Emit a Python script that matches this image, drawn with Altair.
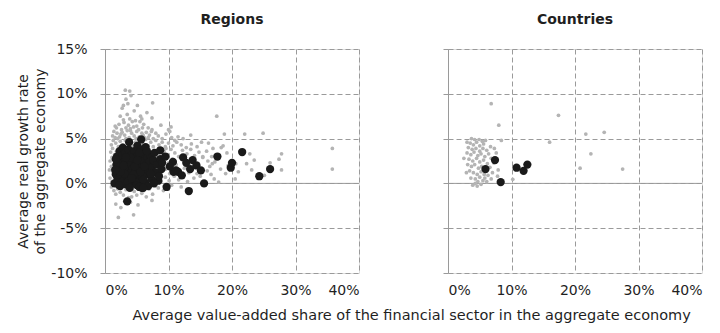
import altair as alt
import pandas as pd

# Regional observations: (financial-sector share %, real growth %)
region_grey = [
    (3.2, 10.4), (3.9, 10.3), (3.3, 9.4), (2.9, 8.7), (2.7, 8.4), (5.1, 8.7), (7.5, 9.0), (4.6, 8.1),
    (6.6, 7.9), (3.5, 7.7), (2.4, 7.5), (5.6, 7.5), (5.8, 7.2), (7.4, 7.3), (17.6, 7.5), (4.1, 9.8), (3.6, 8.9),
    (1.6, 6.4), (1.8, 6.2), (4.3, 6.9), (4.8, 7.0), (5.5, 6.9), (6.8, 6.2), (7.4, 6.0), (10.0, 6.0),
    (10.4, 6.3), (2.2, 6.6), (3.0, 6.8), (3.7, 6.5), (4.0, 6.1), (5.0, 6.4), (6.1, 6.6), (2.6, 6.0),
    (3.3, 6.2), (4.5, 6.3), (5.3, 6.0), (5.9, 6.2), (8.8, 6.5), (3.9, 7.2), (2.9, 7.1),
    (1.4, 5.8), (8.0, 5.6), (1.2, 5.3), (1.9, 5.6), (2.3, 5.2), (2.7, 5.7), (3.1, 5.4), (3.5, 5.9),
    (3.8, 5.1), (4.2, 5.6), (4.6, 5.3), (5.0, 5.8), (5.4, 5.2), (5.8, 5.6), (6.2, 5.1), (6.5, 5.7),
    (7.0, 5.4), (7.6, 5.0), (8.4, 5.3), (9.0, 5.0), (9.6, 5.5), (10.5, 5.1), (11.5, 5.2), (12.3, 5.0),
    (13.5, 5.4), (16.3, 4.5), (18.8, 5.5), (22.0, 5.5), (24.9, 5.6), (2.0, 5.0), (2.5, 5.5), (4.0, 5.9),
    (4.9, 5.0), (6.0, 5.4), (6.8, 5.1), (7.3, 5.8), (3.3, 5.0), (1.6, 5.1), (10.2, 5.8), (11.0, 4.8),
    (1.0, 4.3), (1.3, 4.8), (1.7, 4.5), (2.1, 4.1), (2.4, 4.7), (2.8, 4.3), (3.2, 4.8), (3.6, 4.4),
    (4.0, 4.9), (4.4, 4.2), (4.8, 4.6), (5.2, 4.1), (5.6, 4.8), (6.0, 4.4), (6.4, 4.9), (6.8, 4.2),
    (7.2, 4.6), (7.6, 4.1), (8.0, 4.8), (8.5, 4.3), (9.0, 4.6), (9.5, 4.1), (10.0, 4.5), (10.7, 4.2),
    (11.3, 4.6), (12.0, 4.3), (12.8, 4.0), (13.6, 4.4), (14.5, 4.1), (15.2, 4.6), (18.3, 4.0), (18.6, 4.2),
    (22.8, 3.3), (17.0, 3.9),
    (0.9, 3.5), (1.2, 3.9), (1.5, 3.2), (9.3, 3.6), (9.9, 3.2), (10.4, 3.8), (11.0, 3.4), (11.6, 3.0),
    (12.2, 3.7), (12.9, 3.3), (13.5, 3.8), (14.1, 3.1), (14.8, 3.5), (15.4, 3.0), (16.8, 3.0), (17.3, 3.0),
    (19.2, 3.4), (27.4, 2.7), (27.8, 3.3), (35.8, 3.9), (16.0, 3.6), (8.6, 3.4), (9.6, 3.9),
    (0.8, 2.5), (1.1, 2.9), (9.4, 2.8), (10.0, 2.3), (10.6, 2.7), (11.2, 2.1), (11.9, 2.9), (12.6, 2.4),
    (13.3, 2.0), (14.0, 2.6), (14.7, 2.2), (15.4, 2.9), (16.2, 2.5), (16.9, 2.2), (17.3, 2.4), (19.4, 2.0),
    (20.6, 2.2), (22.3, 2.2), (16.5, 1.9), (23.5, 2.6), (26.0, 2.3),
    (0.7, 1.5), (1.0, 1.9), (9.6, 1.6), (10.2, 1.1), (11.0, 1.8), (11.8, 1.3), (12.5, 1.7), (13.2, 1.2),
    (13.9, 1.9), (14.5, 1.1), (16.1, 1.4), (16.7, 1.0), (18.2, 1.6), (21.0, 1.3), (23.1, 1.5), (27.8, 1.5),
    (35.8, 1.6), (25.1, 0.9), (19.0, 1.1),
    (0.8, 0.6), (1.1, 0.2), (9.5, 0.7), (10.1, 0.3), (10.9, 0.8), (11.6, 0.4), (12.4, 0.9), (13.0, 0.2),
    (14.0, 0.6), (17.2, 0.5), (17.9, 0.15), (15.0, 0.8), (20.5, 0.5),
    (1.0, -0.4), (1.4, -0.8), (1.7, -1.2), (2.0, -0.6), (2.4, -1.0), (2.9, -1.3), (3.3, -0.7), (3.7, -1.6),
    (4.0, -2.1), (4.2, -1.5), (4.6, -0.9), (5.0, -1.3), (5.4, -0.5), (5.8, -1.1), (6.1, -0.8), (6.5, -1.5),
    (7.0, -0.6), (7.4, -1.9), (7.5, -1.2), (8.0, -0.3), (8.4, -0.5), (9.2, -0.8), (1.7, -2.3), (2.5, -2.7),
    (2.1, -3.8), (4.5, -3.5), (3.1, -2.0), (5.2, -2.4), (6.2, -0.3), (3.5, -0.3), (2.7, -0.2), (10.5, -0.2),
    (12.0, -0.4),
    (1.5, 0.5), (2.0, 1.3), (2.3, 2.2), (2.6, 3.1), (3.0, 0.8), (3.4, 1.7), (3.8, 2.6), (4.1, 3.5),
    (4.5, 0.4), (4.9, 1.2), (5.3, 2.1), (5.7, 3.0), (6.1, 3.9), (6.5, 0.9), (6.9, 1.8), (7.3, 2.7),
    (7.7, 3.6), (8.1, 0.5), (8.5, 1.4), (8.9, 2.3), (1.8, 3.6), (2.2, 0.1), (3.6, 4.0), (5.0, 3.7),
    (6.3, 2.4), (7.8, 1.0), (8.8, 0.2), (1.3, 1.2), (1.6, 2.4),
]

region_black = [
    (1.5, 0.0), (1.7, 1.0), (1.8, 2.1), (1.9, 3.0), (2.0, 0.5), (2.1, 1.6), (2.2, 2.6), (2.3, 3.6),
    (2.4, -0.3), (2.5, 0.9), (2.6, 1.9), (2.7, 3.1), (2.8, 4.0), (2.9, 0.3), (3.0, 1.4), (3.1, 2.4),
    (3.2, 3.4), (3.3, -0.1), (3.4, 0.8), (3.5, 1.8), (3.6, 2.8), (3.7, 3.8), (3.8, 4.6), (3.9, 0.4),
    (4.0, 1.2), (4.1, 2.2), (4.2, 3.2), (4.3, 0.0), (4.4, 1.7), (4.5, 2.7), (4.6, 3.6), (4.7, 0.7),
    (4.8, 1.4), (4.9, 2.4), (5.0, 3.0), (5.1, 4.2), (5.2, 0.2), (5.3, 1.1), (5.4, 2.0), (5.5, 2.9),
    (5.6, 3.8), (5.7, 4.9), (5.8, -0.5), (5.9, 0.6), (6.0, 1.6), (6.1, 2.5), (6.2, 3.3), (6.4, 4.05),
    (6.3, 0.1), (6.5, 1.0), (6.6, 2.1), (6.7, 2.9), (6.8, -0.3), (6.9, 1.4), (7.0, 2.4), (7.1, 3.2),
    (7.3, 0.5), (7.4, 1.8), (7.6, 2.6), (7.8, 3.4), (8.0, 1.2), (8.2, 2.1), (8.4, 0.3), (8.7, 3.7),
    (8.7, 2.7), (8.9, 1.6), (9.0, 2.3), (3.5, -2.0), (2.0, 2.3), (2.6, 0.1), (3.1, 1.1), (3.6, 0.2),
    (4.0, 2.9), (4.5, 1.0), (4.9, 0.1), (5.4, 3.4), (6.0, 0.4), (6.6, 3.6), (7.2, 1.1), (2.4, 1.3),
    (2.9, 2.0), (3.3, 2.9), (4.2, 0.6), (4.7, 1.9), (5.1, 2.6), (5.6, 1.3), (6.2, 1.9), (1.6, 1.5),
    (1.7, 2.7), (8.5, 0.8), (7.7, 0.0), (5.0, -0.2), (2.2, -0.2), (3.9, -0.5), (5.4, -0.4), (6.0, -0.5),
    (9.7, -0.4), (10.7, 2.4), (10.8, 1.3), (11.2, 1.45), (11.5, 1.3), (12.1, 0.9), (12.3, 2.9), (12.8, 2.3),
    (13.4, 1.6), (13.8, 2.6), (14.4, 2.0), (15.1, 1.45), (13.2, -0.85), (15.6, 0.0), (17.7, 3.0),
    (19.8, 1.75), (20.0, 2.3), (21.6, 3.5), (24.3, 0.8), (26.0, 1.6), (9.5, 3.0), (10.2, 1.9),
]

# National observations
country_grey = [
    (6.8, 8.9), (8.0, 6.5), (8.4, 4.8), (17.4, 7.6), (16.0, 4.6), (21.7, 5.5), (24.6, 5.7), (22.5, 3.3),
    (20.8, 1.7), (27.5, 1.6), (10.2, 0.45), (7.3, 3.9), (7.6, 3.4), (7.9, 1.5), (7.8, 0.8),
    (3.7, 5.0), (4.2, 4.9), (4.9, 4.9), (5.4, 4.7), (2.5, 2.8), (2.9, 1.2), (3.9, -0.2), (4.3, 0.0),
    (4.7, 0.2), (5.8, 0.6), (3.5, 4.5), (4.0, 4.3), (4.5, 4.6), (5.0, 4.2), (5.6, 4.4), (3.2, 4.0),
    (3.8, 3.8), (4.4, 3.9), (5.0, 3.6), (5.5, 3.9), (6.1, 3.7), (3.0, 3.4), (3.6, 3.2), (4.1, 3.5),
    (4.7, 3.1), (5.2, 3.3), (5.8, 3.0), (6.4, 3.3), (3.3, 2.7), (3.9, 2.5), (4.5, 2.8), (5.0, 2.4),
    (5.6, 2.6), (6.2, 2.2), (6.8, 2.8), (3.1, 2.1), (3.7, 1.9), (4.2, 2.1), (4.8, 1.7), (5.3, 1.9),
    (6.0, 1.5), (6.6, 1.8), (3.4, 1.4), (4.0, 1.2), (4.6, 1.0), (5.2, 1.3), (5.7, 1.0), (6.3, 0.9),
    (7.0, 1.2), (3.6, 0.6), (4.3, 0.5), (5.0, 0.7), (5.5, 0.3), (6.1, 0.2), (6.8, 0.5), (4.6, -0.3),
    (5.2, -0.1), (7.2, 2.3), (3.0, 4.6), (6.7, 4.1), (5.9, 4.8),
]

country_black = [(7.4, 2.6), (5.9, 1.6), (8.3, 0.15), (10.8, 1.75), (11.9, 1.4), (12.5, 2.1)]

x_ticks = [0, 10, 20, 30, 40]
y_ticks = [-10, -5, 0, 5, 10, 15]

FONT = "DejaVu Sans"
FS = 14
TEXT = "#1f1f1f"
GREY_PT = "#b4b4b4"
BLACK_PT = "#1a1a1a"
LINE = "#9a9a9a"


def panel(name, grey, black, first):
    grey_df = pd.DataFrame(grey, columns=["share", "growth"])
    black_df = pd.DataFrame(black, columns=["share", "growth"])

    x = alt.X(
        "share:Q",
        scale=alt.Scale(domain=[0, 40], nice=False, zero=False),
        axis=alt.Axis(
            values=x_ticks, labelExpr="datum.value + '%'", title=None,
            domain=False, ticks=False, grid=True, gridDash=[5, 3], gridColor=LINE,
            labelPadding=10, labelFontSize=FS, labelColor=TEXT, labelFont=FONT,
        ),
    )
    # Both panels carry the same y labels so their titles line up; the
    # second panel's labels are simply not shown.
    y_axis = dict(
        values=y_ticks, grid=True, gridDash=[5, 3], gridColor=LINE,
        domain=True, domainColor=LINE, ticks=True, tickColor=LINE, tickSize=5,
        labelExpr="datum.value + '%'", labelPadding=13, labelFontSize=FS,
        labelColor=TEXT, labelFont=FONT,
    )
    if first:
        y_axis.update(
            title=["Average real growth rate", "of the aggregate economy"],
            titleFont=FONT, titleFontSize=FS, titleFontWeight="normal", titleColor=TEXT,
            titleLineHeight=17, titlePadding=3,
        )
    else:
        y_axis.update(labelOpacity=0, title=None)
    y = alt.Y("growth:Q", scale=alt.Scale(domain=[-10, 15], nice=False), axis=alt.Axis(**y_axis))

    zero_line = alt.Chart(pd.DataFrame({"growth": [0]})).mark_rule(
        color=LINE, strokeWidth=1
    ).encode(y=alt.Y("growth:Q", scale=alt.Scale(domain=[-10, 15], nice=False)))
    grey_pts = alt.Chart(grey_df).mark_circle(size=14, color=GREY_PT, opacity=1).encode(x=x, y=y)
    black_pts = alt.Chart(black_df).mark_circle(size=68, color=BLACK_PT, opacity=1).encode(x=x, y=y)

    return alt.layer(zero_line, grey_pts, black_pts).properties(
        width=254, height=224,
        title=alt.TitleParams(
            name, font=FONT, fontSize=FS, fontWeight="bold", color=TEXT,
            offset=15, anchor="middle", frame="group",
        ),
    )


chart = alt.hconcat(
    panel("Regions", region_grey, region_black, True),
    panel("Countries", country_grey, country_black, False),
    spacing=33,
).properties(
    title=alt.TitleParams(
        "Average value-added share of the financial sector in the aggregate economy",
        orient="bottom", anchor="middle", font=FONT, fontSize=14.5, fontWeight="normal",
        color=TEXT, offset=11, dx=52,
    ),
    padding={"left": 16, "top": 12, "right": 5, "bottom": 5},
).configure_view(stroke=None).configure(background="white")

chart.save("out.html", embed_options={"renderer": "svg", "actions": False})
